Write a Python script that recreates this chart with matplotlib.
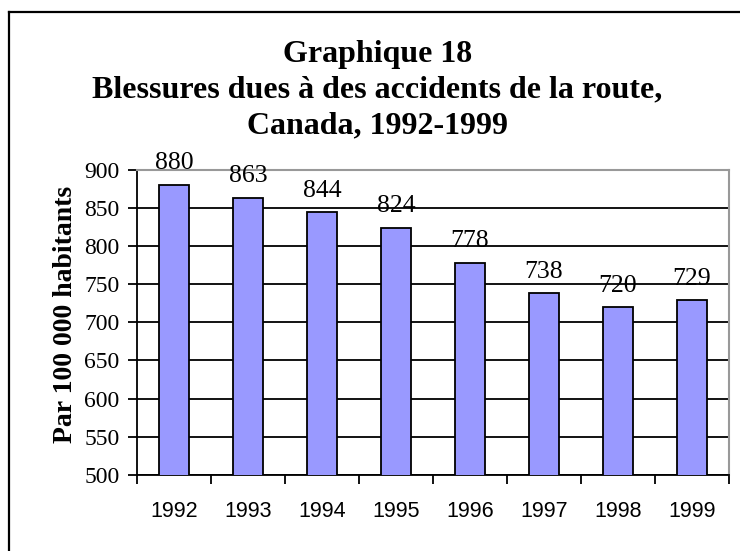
import matplotlib.pyplot as plt
from matplotlib.lines import Line2D

years = ["1992", "1993", "1994", "1995", "1996", "1997", "1998", "1999"]
injuries = [880, 863, 844, 824, 778, 738, 720, 729]
y_ticks = [500, 550, 600, 650, 700, 750, 800, 850, 900]

BAR_COLOR = "#9999ff"
SERIF = "Liberation Serif"
SANS = "Liberation Sans"

fig = plt.figure(figsize=(7.4, 5.51), dpi=100)
ax = fig.add_axes([137 / 740, 1 - 475 / 551, 592 / 740, 305.5 / 551])

x = list(range(len(years)))
ax.bar(x, injuries, width=0.41, color=BAR_COLOR, edgecolor="black",
       linewidth=1.3, zorder=3)

for xi, v in zip(x, injuries):
    ax.annotate(str(v), (xi, v), xytext=(0, 7.5), textcoords="offset points",
                ha="center", va="bottom", fontsize=18.5, family=SERIF)

ax.set_xlim(-0.5, len(years) - 0.5)
ax.set_ylim(500, 900)
ax.set_yticks(y_ticks)
ax.set_yticklabels([str(t) for t in y_ticks], family=SERIF, fontsize=17)
ax.yaxis.grid(True, color="black", linewidth=1.3, zorder=0)

# ticks between categories on x, labels centered under bars
ax.set_xticks([i - 0.5 for i in range(len(years) + 1)])
ax.set_xticklabels([])
ax.set_xticks(x, minor=True)
ax.set_xticklabels(years, minor=True, family=SANS, fontsize=15.5)
ax.tick_params(axis="x", which="major", direction="out", length=6.5, width=1.3)
ax.tick_params(axis="x", which="minor", length=0, pad=19)
ax.tick_params(axis="y", direction="out", length=6.5, width=1.3, pad=6)

for side in ["left", "bottom"]:
    ax.spines[side].set_color("black")
    ax.spines[side].set_linewidth(1.3)
for side in ["top", "right"]:
    ax.spines[side].set_color("#999999")
    ax.spines[side].set_linewidth(1.5)

ax.set_ylabel("Par 100 000 habitants", family=SERIF, fontweight="bold",
              fontsize=20)
ax.yaxis.set_label_coords(-0.10, 0.524)

fig.text(0.51, 1 - 90 / 551, "Graphique 18\nBlessures dues à des accidents de la route,\nCanada, 1992-1999",
         ha="center", va="center", family=SERIF, fontweight="bold",
         fontsize=23, linespacing=1.3)

# outer frame (only left and top edges fall inside the image)
fig.add_artist(Line2D([9 / 740, 9 / 740], [0, 1 - 12 / 551], color="black",
                      linewidth=1.6, transform=fig.transFigure))
fig.add_artist(Line2D([9 / 740, 1], [1 - 12 / 551, 1 - 12 / 551], color="black",
                      linewidth=1.6, transform=fig.transFigure))

fig.savefig("out.png", dpi=100)
